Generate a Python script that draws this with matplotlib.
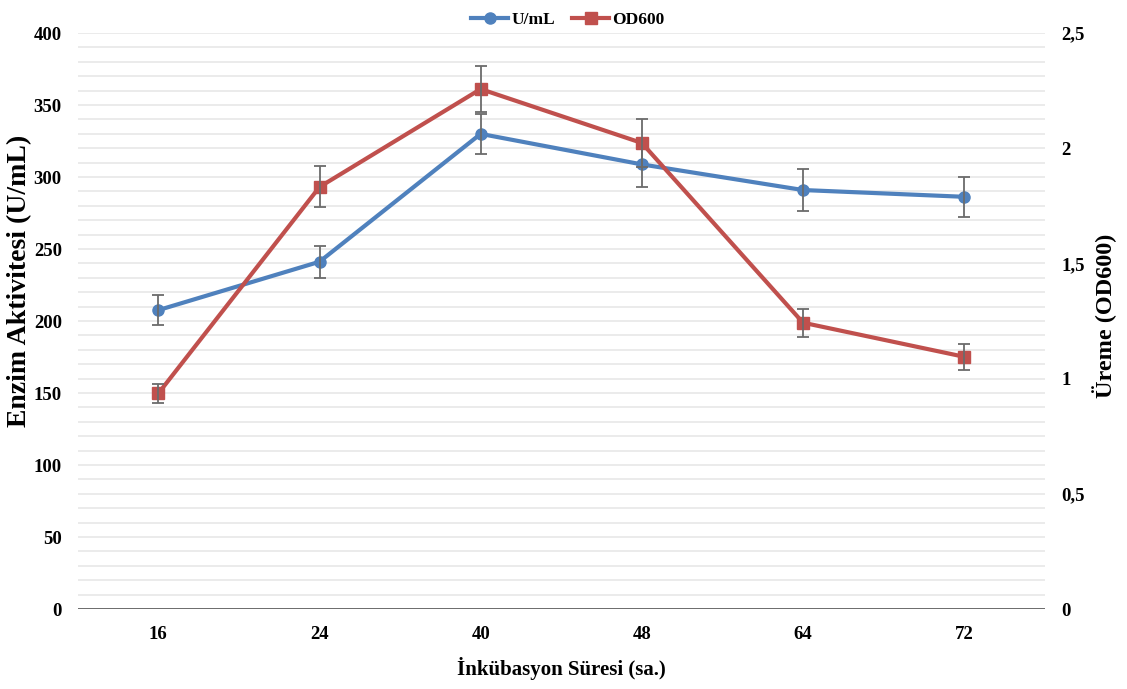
import numpy as np
import matplotlib.pyplot as plt
from matplotlib.ticker import FuncFormatter

# incubation times (hours) and measured values
hours = ["16", "24", "40", "48", "64", "72"]
activity = [207.6, 241.2, 330.0, 308.8, 291.0, 286.3]      # U/mL
activity_err = [10.4, 11.0, 14.0, 15.6, 14.5, 14.0]
od600 = [0.936, 1.832, 2.257, 2.023, 1.243, 1.095]
od600_err = [0.042, 0.089, 0.100, 0.104, 0.060, 0.056]

blue = "#4F81BD"
red = "#C0504D"
err_color = "#6b6b6b"

plt.rcParams['font.family'] = ['Liberation Serif', 'DejaVu Serif']
plt.rcParams['font.weight'] = 'bold'

fig = plt.figure(figsize=(11.27, 6.89), dpi=100)
ax = fig.add_axes([0.069, 0.116, 0.858, 0.836])
ax2 = ax.twinx()

x = np.arange(len(hours))

ax.errorbar(x, activity, yerr=activity_err, fmt='none', ecolor=err_color,
            elinewidth=1.3, capsize=4, capthick=1.3, zorder=4)
l1, = ax.plot(x, activity, color=blue, lw=3, marker='o', markersize=8,
              label="U/mL", zorder=3)

ax2.errorbar(x, od600, yerr=od600_err, fmt='none', ecolor=err_color,
             elinewidth=1.3, capsize=4, capthick=1.3, zorder=4)
l2, = ax2.plot(x, od600, color=red, lw=3, marker='s', markersize=8,
               label="OD600", zorder=3)

ax.set_xlim(-0.5, len(hours) - 0.5)
ax.set_ylim(0, 400)
ax2.set_ylim(0, 2.5)
ax.set_xticks(x)
ax.set_xticklabels(hours)
ax.set_yticks(np.arange(0, 401, 50))
ax2.set_yticks(np.arange(0, 2.51, 0.5))
ax2.yaxis.set_major_formatter(FuncFormatter(lambda v, p: f"{v:g}".replace(".", ",")))

# light gridlines every 10 U/mL
for g in np.arange(10, 401, 10):
    ax.axhline(g, color="#e8e8e8", lw=1.2, zorder=0)

for a in (ax, ax2):
    for s in ("top", "left", "right", "bottom"):
        a.spines[s].set_visible(False)
    a.tick_params(length=0, labelsize=13.5)
ax.axhline(0, color="#404040", lw=1.8, zorder=2)
ax.tick_params(axis='y', pad=11.5)
ax.tick_params(axis='x', pad=12)
ax2.tick_params(axis='y', pad=12)

ax.set_xlabel("İnkübasyon Süresi (sa.)", fontsize=15, fontweight='bold', labelpad=10)
ax.set_ylabel("Enzim Aktivitesi (U/mL)", fontsize=20, fontweight='bold')
ax2.set_ylabel("Üreme (OD600)", fontsize=17.5, fontweight='bold')
ax.yaxis.set_label_coords(-0.047, 0.569)
ax2.yaxis.set_label_coords(1.049, 0.51)

fig.legend(handles=[l1, l2], loc="upper center", bbox_to_anchor=(0.504, 1.005),
           ncol=2, frameon=False, fontsize=12.5, handlelength=2.1,
           columnspacing=1.0, handletextpad=0.2)

fig.savefig("out.png", dpi=100)
